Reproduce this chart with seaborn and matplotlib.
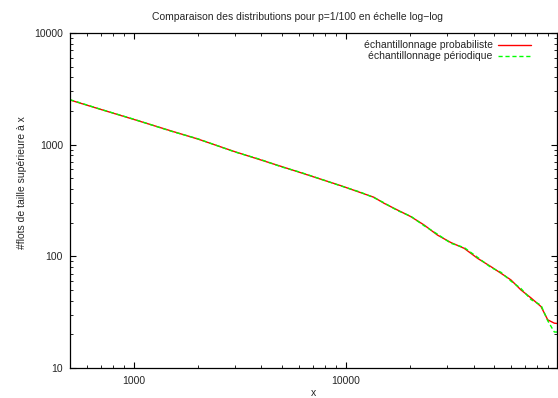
import pandas as pd
import matplotlib.pyplot as plt
import matplotlib.ticker as mticker
import seaborn as sns

# Values (complementary distribution, log-log)
x_vals = [500, 700, 1000, 1500, 2000, 3000, 3950, 5000, 6110, 9440,
          11740, 13560, 15120, 17500, 20220, 23370, 27040, 31250, 36120,
          41780, 48290, 53840, 60020, 66940, 74640, 83220, 89520, 96180, 100000]
proba = [2512, 2066, 1683, 1327, 1125, 864, 732, 635, 562, 430,
         372, 338, 299, 260, 227, 191, 155, 133, 118,
         96, 80.9, 70.6, 61.5, 50.0, 42.4, 35.5, 27.0, 25.2, 25.0]
perio = [2530, 2070, 1690, 1320, 1130, 860, 738, 630, 566, 428,
         375, 335, 302, 257, 229, 188, 158, 131, 120,
         98, 79.5, 72.0, 60.0, 51.5, 41.0, 36.5, 26.5, 21.0, 21.0]

df = pd.DataFrame({
    "x": x_vals + x_vals,
    "y": proba + perio,
    "serie": ["échantillonnage probabiliste"] * len(x_vals)
             + ["échantillonnage périodique"] * len(x_vals),
})

sns.set_style("ticks")
plt.rcParams["font.family"] = ["Liberation Sans", "DejaVu Sans"]

fig = plt.figure(figsize=(5.58, 3.98), dpi=100)
ax = fig.add_axes([70 / 558, 30 / 398, 487 / 558, 335 / 398])

sns.lineplot(data=df[df.serie == "échantillonnage probabiliste"], x="x", y="y",
             color="#ff0000", linewidth=1, ax=ax,
             label="échantillonnage probabiliste")
sns.lineplot(data=df[df.serie == "échantillonnage périodique"], x="x", y="y",
             color="#00ff00", linewidth=1, linestyle=(0, (3, 2)), ax=ax,
             label="échantillonnage périodique")

ax.set_xscale("log")
ax.set_yscale("log")
ax.set_xlim(500, 99000)
ax.set_ylim(10, 10000)

fmt = mticker.FuncFormatter(lambda v, p: "%d" % v)
ax.xaxis.set_major_formatter(fmt)
ax.yaxis.set_major_formatter(fmt)
ax.xaxis.set_minor_formatter(mticker.NullFormatter())
ax.yaxis.set_minor_formatter(mticker.NullFormatter())
ax.tick_params(which="both", direction="in", top=True, right=True,
               labelsize=7.5, color="black")
ax.tick_params(which="major", length=4.5, width=0.8)
ax.tick_params(which="minor", length=2.5, width=0.6)
ax.tick_params(axis="x", pad=6)
ax.tick_params(axis="y", pad=5)
for s in ax.spines.values():
    s.set_linewidth(0.9)
    s.set_color("black")

ax.set_xlabel("x", fontsize=7.5)
ax.set_ylabel("#flots de taille supérieure à x", fontsize=7.5)
ax.xaxis.set_label_coords(0.5, -0.06)
ax.yaxis.set_label_coords(-0.088, 0.555)

fig.text(297 / 558, 1 - 17 / 398,
         "Comparaison des distributions pour p=1/100 en échelle log\u2212log",
         ha="center", va="center", fontsize=7.5)

ax.legend(loc="upper right", bbox_to_anchor=(0.962, 1.0), frameon=False,
          markerfirst=False, handlelength=3.2, fontsize=7.5,
          borderaxespad=0.3, labelspacing=0.1, handletextpad=0.5)

fig.savefig("out.png", dpi=100)
